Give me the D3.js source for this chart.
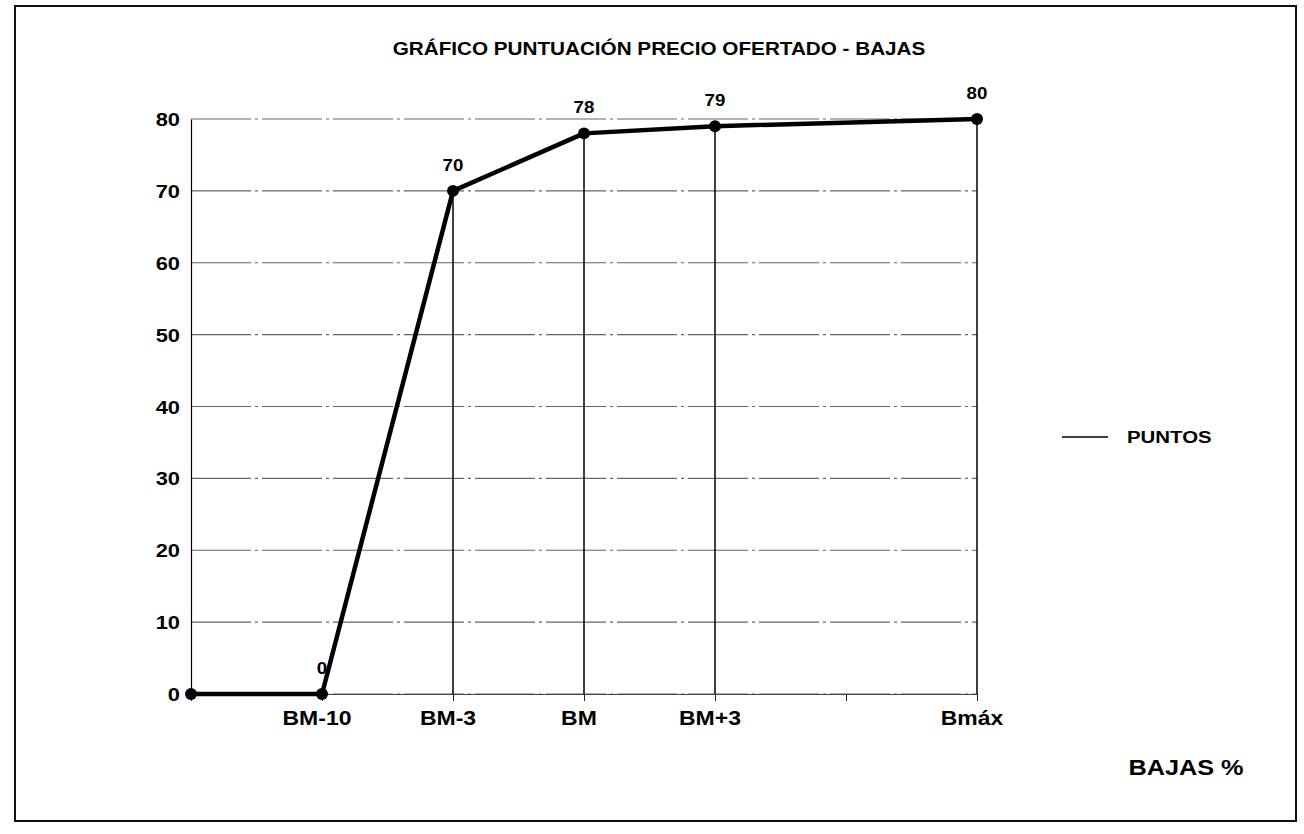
<!DOCTYPE html>
<html>
<head>
<meta charset="utf-8">
<script src="https://cdn.jsdelivr.net/npm/d3@7"></script>
<style>
  body { margin: 0; background: #fff; }
  text { font-family: "Liberation Sans", Arial, sans-serif; font-weight: bold; fill: #000; }
</style>
</head>
<body>
<svg id="chart" width="1304" height="834"></svg>
<script>
const categories = ["inicio", "BM-10", "BM-3", "BM", "BM+3", "vacio", "Bmáx"];
const tickLabels = ["", "BM-10", "BM-3", "BM", "BM+3", "", "Bmáx"];
const puntos = [0, 0, 70, 78, 79, null, 80];
const dataLabels = ["", "0", "70", "78", "79", "", "80"];
const yTicks = [0, 10, 20, 30, 40, 50, 60, 70, 80];

const svg = d3.select('#chart');

// the scan is a bit wider than normal Arial, so texts get stretched
function stretchText(g, x, y, str, size, sx, anchor) {
  return g.append('text')
    .attr('transform', `translate(${x},${y}) scale(${sx},1)`)
    .attr('text-anchor', anchor || 'middle')
    .style('font-size', size + 'px')
    .text(str);
}

// outer frame
svg.append('rect')
  .attr('x', 15).attr('y', 6).attr('width', 1281).attr('height', 815)
  .attr('fill', 'none').attr('stroke', '#111').attr('stroke-width', 2);

stretchText(svg, 659, 55, 'GRÁFICO PUNTUACIÓN PRECIO OFERTADO - BAJAS', 18, 1.15);

const xScale = d3.scalePoint().domain(categories).range([191, 977]);
const yScale = d3.scaleLinear().domain([0, 80]).range([694, 119]);

const chart = svg.append('g');

// gridlines
chart.append('g').selectAll('line')
  .data(yTicks)
  .enter().append('line')
  .attr('x1', xScale.range()[0]).attr('x2', xScale.range()[1])
  .attr('y1', d => yScale(d)).attr('y2', d => yScale(d))
  .attr('stroke', '#666').attr('stroke-width', 1.2)
  .attr('stroke-dasharray', '60,4,3,4');

// y axis
const yAxis = chart.append('g')
  .attr('transform', `translate(${xScale.range()[0]},0)`)
  .call(d3.axisLeft(yScale).tickValues(yTicks).tickSize(0));
yAxis.select('.domain').attr('stroke', '#000').attr('stroke-width', 1.2);
yAxis.selectAll('text').remove();
yTicks.forEach(t => stretchText(yAxis, -11, yScale(t) + 7, String(t), 19, 1.15, 'end'));

// x axis
const xAxis = chart.append('g')
  .attr('transform', `translate(0,${yScale(0)})`)
  .call(d3.axisBottom(xScale).tickSize(7).tickSizeOuter(0).tickFormat(''));
xAxis.select('.domain').attr('stroke', '#444').attr('stroke-width', 1.2);
xAxis.selectAll('.tick line').attr('stroke', '#222');
categories.forEach((c, i) => {
  if (tickLabels[i]) stretchText(chart, xScale(c) - 5, 725, tickLabels[i], 20, 1.15);
});

stretchText(svg, 1186, 775, 'BAJAS %', 22, 1.15);

const pts = categories.map((c, i) => ({ cat: c, v: puntos[i], label: dataLabels[i] }))
  .filter(d => d.v !== null);

// drop lines
chart.append('g').selectAll('line')
  .data(pts)
  .enter().append('line')
  .attr('x1', d => xScale(d.cat)).attr('x2', d => xScale(d.cat))
  .attr('y1', d => yScale(d.v)).attr('y2', yScale(0))
  .attr('stroke', '#000').attr('stroke-width', 1.5);

const line = d3.line()
  .x(d => xScale(d.cat))
  .y(d => yScale(d.v));

chart.append('path')
  .datum(pts)
  .attr('fill', 'none')
  .attr('stroke', '#000')
  .attr('stroke-width', 4.5)
  .attr('stroke-linejoin', 'round')
  .attr('d', line);

chart.append('g').selectAll('circle')
  .data(pts)
  .enter().append('circle')
  .attr('cx', d => xScale(d.cat))
  .attr('cy', d => yScale(d.v))
  .attr('r', 6)
  .attr('fill', '#000');

pts.filter(d => d.label).forEach(d => {
  stretchText(chart, xScale(d.cat), yScale(d.v) - 20, d.label, 17, 1.1);
});

// legend
const legend = svg.append('g');
legend.append('line')
  .attr('x1', 1062).attr('x2', 1108).attr('y1', 437).attr('y2', 437)
  .attr('stroke', '#000').attr('stroke-width', 1.5);
stretchText(legend, 1127, 443, 'PUNTOS', 17, 1.2, 'start');
</script>
</body>
</html>
